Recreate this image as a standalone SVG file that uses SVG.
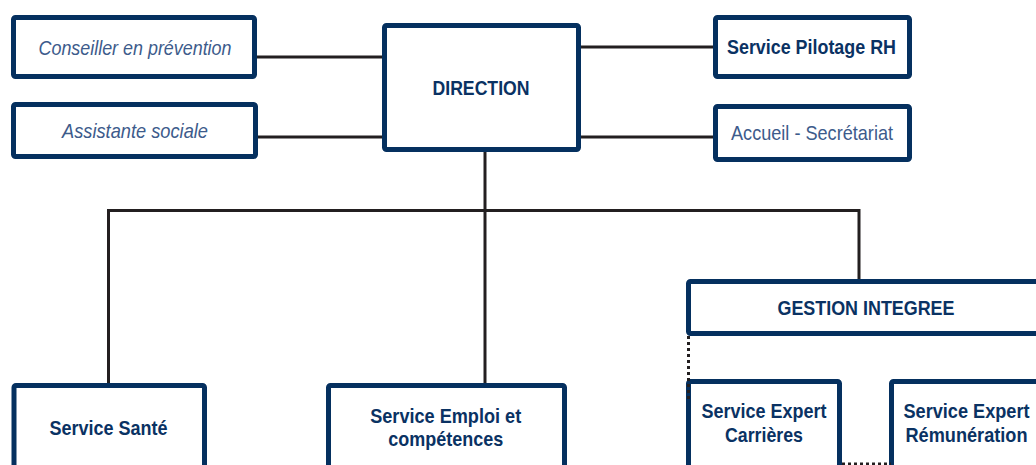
<svg xmlns="http://www.w3.org/2000/svg" width="1036" height="465" viewBox="0 0 1036 465">
<style>
.box{fill:#fff;stroke:#05305f;stroke-width:5}
.b{font-family:"Liberation Sans Narrow","Liberation Sans",Arial,sans-serif;font-weight:bold;font-size:21px;fill:#0a3263;text-anchor:middle}
.r{font-family:"Liberation Sans Narrow","Liberation Sans",Arial,sans-serif;font-size:21px;fill:#3d5b8b;text-anchor:middle}
.i{font-style:italic}
.c{fill:none;stroke:#231f20;stroke-width:3;stroke-linejoin:miter;stroke-linecap:butt}
.d{fill:none;stroke:#231f20;stroke-width:3;stroke-dasharray:3 3}
</style>
<rect width="1036" height="465" fill="#fff"/>
<g id="connectors">
<path class="c" d="M257,57 H382"/>
<path class="c" d="M258,137 H382"/>
<path class="c" d="M581,47 H713"/>
<path class="c" d="M581,137 H713"/>
<path class="c" d="M485,152 V383"/>
<path class="c" d="M108.5,383 V210.5 H859 V279" style="stroke-linecap:square"/>
</g>
<g id="conseiller"><rect class="box" x="13.5" y="17.5" width="241" height="59" rx="2"/><text class="r i" x="135" y="55" textLength="193" lengthAdjust="spacingAndGlyphs">Conseiller en prévention</text></g>
<g id="assistante"><rect class="box" x="13.5" y="104.5" width="242" height="52" rx="2"/><text class="r i" x="135" y="138" textLength="146" lengthAdjust="spacingAndGlyphs">Assistante sociale</text></g>
<g id="direction"><rect class="box" x="384.5" y="25.5" width="194" height="124" rx="2"/><text class="b" x="481" y="95" textLength="97" lengthAdjust="spacingAndGlyphs">DIRECTION</text></g>
<g id="pilotage"><rect class="box" x="715.5" y="17.5" width="194" height="59" rx="2"/><text class="b" x="811.5" y="54" textLength="169" lengthAdjust="spacingAndGlyphs">Service Pilotage RH</text></g>
<g id="accueil"><rect class="box" x="715.5" y="106.5" width="194" height="53" rx="2"/><text class="r" x="812" y="140" textLength="162" lengthAdjust="spacingAndGlyphs">Accueil - Secrétariat</text></g>
<g id="gestion"><rect class="box" x="688.5" y="281.5" width="360" height="52" rx="2"/><text class="b" x="866" y="315" textLength="177" lengthAdjust="spacingAndGlyphs">GESTION INTEGREE</text></g>
<g id="sante"><rect class="box" x="14" y="385.5" width="190.5" height="100" rx="2"/><text class="b" x="108.6" y="435" textLength="118" lengthAdjust="spacingAndGlyphs">Service Santé</text></g>
<g id="emploi"><rect class="box" x="328.5" y="385.5" width="236" height="100" rx="2"/><text class="b" x="445.7" y="423" textLength="151" lengthAdjust="spacingAndGlyphs">Service Emploi et</text><text class="b" x="445.7" y="446" textLength="115" lengthAdjust="spacingAndGlyphs">compétences</text></g>
<g id="carrieres"><rect class="box" x="688.5" y="381.5" width="151" height="100" rx="2"/><text class="b" x="764" y="418" textLength="125" lengthAdjust="spacingAndGlyphs">Service Expert</text><text class="b" x="764" y="442" textLength="78" lengthAdjust="spacingAndGlyphs">Carrières</text></g>
<g id="remuneration"><rect class="box" x="891.5" y="381.5" width="160" height="100" rx="2"/><text class="b" x="966.5" y="418" textLength="126" lengthAdjust="spacingAndGlyphs">Service Expert</text><text class="b" x="966.5" y="442" textLength="122" lengthAdjust="spacingAndGlyphs">Rémunération</text></g>
<g id="dotted-connectors">
<path class="d" d="M688.5,336 V401"/>
<path class="d" d="M842,464 H891"/>
</g>
</svg>
